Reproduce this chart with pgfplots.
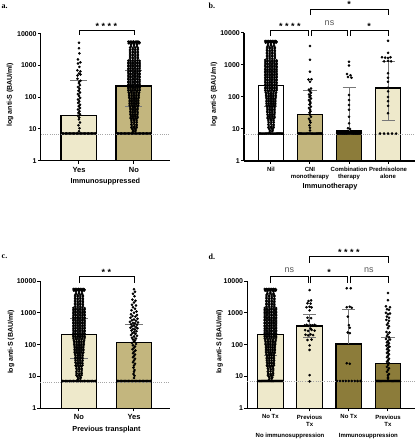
\documentclass[border=0pt]{standalone}
\usepackage{pgfplots}
\pgfplotsset{compat=1.18}
\usepackage{pgfplotstable}
\usepackage{fontspec}
\setmainfont{Liberation Sans}
\newfontfamily\serifb{Liberation Serif}
\definecolor{cLight}{RGB}{238,233,203}
\definecolor{cMid}{RGB}{195,182,126}
\definecolor{cDark}{RGB}{140,124,58}
\definecolor{cErr}{RGB}{120,120,120}

% dense group (no immunosuppression): dx in px offset, y value
\pgfplotstableread[row sep=\\]{
dx y\\
-1.5 8\\ 1.5 8.5\\ -1 9\\ 2 9.3\\ -2 10\\ 1 10.3\\
-3 11\\ 0 11.2\\ 3 11\\ -2.5 12.4\\ 0.5 12\\ 3 12.5\\ -3 14\\ 0 14.3\\ 3 13.8\\
-2.5 16\\ 0.5 16.5\\ 3.2 16\\ -3 18\\ 0 18.5\\ 3 18\\ -3.2 20.5\\ -0.3 20\\ 2.8 20.3\\
-4 22\\ -1.3 22.5\\ 1.3 22\\ 4 22.5\\ -3.5 25\\ -1 25.5\\ 1.5 25\\ 4 25.3\\
-4 28\\ -1.3 28.5\\ 1.3 28\\ 3.8 28.6\\ -4 32\\ -1.3 32.5\\ 1.3 32\\ 4.2 32\\
-4.2 36\\ -1.5 36.6\\ 1.3 36\\ 4 36.5\\ -4 40\\ -1.3 40.5\\ 1.3 40\\ 4 40.5\\
-4 45\\ -1.2 45.6\\ 1.4 45\\ 4.2 45.5\\ -4.5 50\\ -1.5 50.6\\ 1.3 50\\ 4 51\\
-5 56\\ -2.5 56.5\\ 0 56\\ 2.5 57\\ 5 56\\
-5 63\\ -2.5 64\\ 0 63\\ 2.5 63.5\\ 5 64\\
-5 71\\ -2.5 72\\ 0 71\\ 2.5 72\\ 5 71\\
-5 80\\ -2.5 81\\ 0 80\\ 2.5 81\\ 5 80\\
-5 90\\ -2.5 91\\ 0 90\\ 2.5 91\\ 5 90\\
-5.5 100\\ -2.7 102\\ 0 100\\ 2.7 102\\ 5.5 100\\
-5.5 112\\ -2.7 114\\ 0 112\\ 2.7 114\\ 5.5 112\\
-5.5 125\\ -2.7 127\\ 0 125\\ 2.7 127\\ 5.5 125\\
-6 140\\ -3 143\\ 0 140\\ 3 143\\ 6 140\\
-6.5 160\\ -4 163\\ -1.3 160\\ 1.3 163\\ 4 160\\ 6.5 163\\
-6.5 182\\ -4 180\\ -1.3 183\\ 1.3 180\\ 4 183\\ 6.5 180\\
-6.5 200\\ -4 204\\ -1.3 200\\ 1.3 204\\ 4 200\\ 6.5 204\\
-6.5 228\\ -4 224\\ -1.3 228\\ 1.3 224\\ 4 228\\ 6.5 224\\
-6.5 250\\ -4 255\\ -1.3 250\\ 1.3 255\\ 4 250\\ 6.5 255\\
-6.5 286\\ -4 280\\ -1.3 286\\ 1.3 280\\ 4 286\\ 6.5 280\\
-6.5 316\\ -4 322\\ -1.3 316\\ 1.3 322\\ 4 316\\ 6.5 322\\
-6.5 362\\ -4 355\\ -1.3 362\\ 1.3 355\\ 4 362\\ 6.5 355\\
-6.5 400\\ -4 408\\ -1.3 400\\ 1.3 408\\ 4 400\\ 6.5 408\\
-6.5 459\\ -4 450\\ -1.3 459\\ 1.3 450\\ 4 459\\ 6.5 450\\
-6.5 500\\ -4 510\\ -1.3 500\\ 1.3 510\\ 4 500\\ 6.5 510\\
-6.5 571\\ -4 560\\ -1.3 571\\ 1.3 560\\ 4 571\\ 6.5 560\\
-6.5 630\\ -4 642\\ -1.3 630\\ 1.3 642\\ 4 630\\ 6.5 642\\
-6.5 724\\ -4 710\\ -1.3 724\\ 1.3 710\\ 4 724\\ 6.5 710\\
-6.5 800\\ -4 816\\ -1.3 800\\ 1.3 816\\ 4 800\\ 6.5 816\\
-6.5 918\\ -4 900\\ -1.3 918\\ 1.3 900\\ 4 918\\ 6.5 900\\
-6.5 1000\\ -4 1020\\ -1.3 1000\\ 1.3 1020\\ 4 1000\\ 6.5 1020\\
-6.5 1142\\ -4 1120\\ -1.3 1142\\ 1.3 1120\\ 4 1142\\ 6.5 1120\\
-6.5 1250\\ -4 1275\\ -1.3 1250\\ 1.3 1275\\ 4 1250\\ 6.5 1275\\
-6.5 1428\\ -4 1400\\ -1.3 1428\\ 1.3 1400\\ 4 1428\\ 6.5 1400\\
-4.5 1600\\ -1.5 1630\\ 1.5 1600\\ 4.5 1630\\
-4.5 1830\\ -1.5 1800\\ 1.5 1830\\ 4.5 1800\\
-4.5 2000\\ -1.5 2040\\ 1.5 2000\\ 4.5 2040\\
-4.5 2280\\ -1.5 2240\\ 1.5 2280\\ 4.5 2240\\
-4.5 2500\\ -1.5 2550\\ 1.5 2500\\ 4.5 2550\\
-4.5 2850\\ -1.5 2800\\ 1.5 2850\\ 4.5 2800\\
-4.5 3160\\ -1.5 3220\\ 1.5 3160\\ 4.5 3220\\
-4.5 3620\\ -1.5 3550\\ 1.5 3620\\ 4.5 3550\\
-3.5 4000\\ 0 4080\\ 3.5 4000\\
-3.5 4590\\ 0 4500\\ 3.5 4590\\
-6 5000\\ -3 5100\\ 0 5000\\ 3 5100\\ 6 5000\\
-5.5 5300\\ -3.5 5350\\ -1.5 5300\\ 0.5 5350\\ 2.5 5300\\ 4.5 5350\\ 6.5 5300\\
-6.5 5600\\ -4.5 5650\\ -2.5 5600\\ -0.5 5650\\ 1.5 5600\\ 3.5 5650\\ 5.5 5600\\
}\dense

% values at the detection limit (dx in axis units)
\pgfplotstableread[row sep=\\]{
dx y\\
-0.3 7.2\\ -0.275 7.2\\ -0.25 7.2\\ -0.225 7.2\\ -0.2 7.2\\ -0.175 7.2\\ -0.15 7.2\\
-0.125 7.2\\ -0.1 7.2\\ -0.075 7.2\\ -0.05 7.2\\ -0.025 7.2\\ 0 7.2\\ 0.025 7.2\\
0.05 7.2\\ 0.075 7.2\\ 0.1 7.2\\ 0.125 7.2\\ 0.15 7.2\\ 0.175 7.2\\ 0.2 7.2\\
0.225 7.2\\ 0.25 7.2\\ 0.275 7.2\\ 0.3 7.2\\
}\lod
\pgfplotstableread[row sep=\\]{
dx y\\
-0.3 7.2\\ -0.225 7.2\\ -0.15 7.2\\ -0.075 7.2\\ 0 7.2\\ 0.075 7.2\\ 0.15 7.2\\ 0.225 7.2\\ 0.3 7.2\\
}\lods

\pgfplotstableread[row sep=\\]{
dx y\\
0 5200\\ 0 3500\\ 0.5 2400\\ -1 1550\\ 1.5 1250\\ -1 1150\\ 0.5 900\\ -1.5 700\\ 1.5 650\\ 0 560\\
-1.5 480\\ 1.5 520\\ -1.5 380\\ 1.5 330\\ 0 300\\ 0 275\\ 1 240\\ -1 210\\ 0.5 185\\ -0.5 160\\
1 140\\ -1 125\\ 0 110\\ 1.2 95\\ -1 85\\ 0.3 75\\ -0.8 66\\ 1 58\\ -0.3 52\\ 1 46\\ -1 41\\
0.5 36\\ -0.5 32\\ 1 29\\ -1 26\\ 0.3 23\\ 0 20\\ 1 16\\ -0.5 13\\ 0.5 10.5\\ 0 8.5\\
}\aYes

\pgfplotstableread[row sep=\\]{
dx y\\
0 5500\\ 1 4600\\ -1 4000\\ 0.5 3300\\ -1.5 2600\\ 1.5 2400\\ 0 2100\\ -2 1800\\ 2 1700\\ -1 1500\\
1 1350\\ -2.5 1200\\ 2.5 1100\\ 0 1000\\ -3 900\\ 3 850\\ -1.5 800\\ 1.5 760\\ -3.5 700\\ 3.5 650\\
0 620\\ -2 580\\ 2 560\\ -4 520\\ 4 500\\ -1 480\\ 1 470\\ -3 440\\ 3 420\\ 0 400\\ -2 380\\ 2 360\\
-3.5 340\\ 3.5 330\\ -1 310\\ 1 300\\ -2.5 280\\ 2.5 265\\ 0 250\\ -1.5 230\\ 1.5 220\\ -3 200\\
3 190\\ 0 180\\ -2 165\\ 2 155\\ -1 145\\ 1 135\\ 0 125\\ -2 112\\ 2 105\\ -1 95\\ 1 88\\ 0 80\\
-1.5 72\\ 1.5 66\\ 0 60\\ -1 54\\ 1 49\\ 0 44\\ -1 40\\ 1 36\\ 0 32\\ -1 28\\ 1 25\\ 0 22\\
-0.5 19\\ 0.5 16\\ 0 14\\ -0.5 12\\ 0.5 10.5\\ 0 9\\
}\cYes

\pgfplotstableread[row sep=\\]{
dx y\\
0 3900\\ 0 1450\\ 0 620\\ -1.5 350\\ 1.5 360\\ 0 300\\ 1 185\\ -1 170\\ 0 150\\ 1 135\\ -1 120\\
0.5 110\\ -0.5 100\\ 1 90\\ -1 80\\ 0 72\\ 0.5 65\\ -0.5 58\\ 1 50\\ -1 45\\ 0 40\\ 0.5 36\\
-0.5 32\\ 0 28\\ 1 24\\ -1 21\\ 0 18\\ 0.5 16\\ -0.5 13\\ 0 11\\ 0 9\\
}\bCNI

\pgfplotstableread[row sep=\\]{
dx y\\
0 1260\\ 0 960\\ -2 520\\ 1.5 480\\ -1 420\\ 2.5 400\\ 0 115\\ 0 80\\ 0 56\\ 0 40\\ 0 24\\ 0 15\\
-1 10.5\\ 1 10\\ -11.7 7.9\\ -9.75 7.9\\ -7.8 7.9\\ -5.85 7.9\\ -3.9 7.9\\ -1.95 7.9\\ 0 7.9\\
1.95 7.9\\ 3.9 7.9\\ 5.85 7.9\\ 7.8 7.9\\ 9.75 7.9\\ 11.7 7.9\\
}\bComb

\pgfplotstableread[row sep=\\]{
dx y\\
0 5700\\ 0 2400\\ -6 1750\\ -3 1700\\ 0 1650\\ 2.5 1750\\ -4 1300\\ 0 1350\\ 3 1300\\ 0 550\\
0 400\\ 0 300\\ 0 195\\ 0 150\\ 0 100\\ 0 74\\ 0 53\\ 0 31\\
-8 7.2\\ -4 7.2\\ 0 7.2\\ 4 7.2\\ 8 7.2\\
}\bPred

\pgfplotstableread[row sep=\\]{
dx y\\
0 5200\\ 1.5 2450\\ -1 2350\\ -2 2000\\ 1 1950\\ -3 1500\\ 0 1550\\ 2 1480\\ 0 1200\\ -2 700\\
1.5 680\\ -1 560\\ -5 400\\ -3 420\\ -1 390\\ 1 410\\ 3 400\\ 5 420\\ 6.5 390\\ 1 320\\
-4.5 285\\ -1.5 270\\ 2 290\\ 5 275\\ -4 205\\ -1.5 195\\ 1 210\\ 3.5 200\\ -2 140\\ 2 145\\
0 95\\ 0 68\\ 0 11\\ 0 7\\
}\dPrev

\pgfplotstableread[row sep=\\]{
dx y\\
-2 5900\\ 2 5900\\ -2 1500\\ 1 1550\\ 3 1450\\ -1 760\\ 0 410\\ 1 340\\ -1 240\\ 1 230\\ -2 26\\ 1 25\\
}\dNoTxI

\pgfplotstableread[row sep=\\]{
dx y\\
0 4200\\ 0 2500\\ -2 1600\\ 2 1500\\ -1 1300\\ 1 1250\\ -2 1000\\ 2 950\\ 0 900\\ -1 760\\
1 700\\ -1.5 600\\ 1 560\\ 0 470\\ -1 420\\ 1 380\\ 0 330\\ -1.5 250\\ 1.5 240\\ 0 210\\
-1 185\\ 1 170\\ -2 150\\ 2 145\\ 0 130\\ -1 118\\ 1 110\\ 0 100\\ -1.5 92\\ 1.5 86\\ 0 80\\
-1 72\\ 1 66\\ 0 60\\ -1 55\\ 1 50\\ 0 45\\ -1 40\\ 1 36\\ 0 32\\ -1 29\\ 1 26\\ 0 23\\
-1 20\\ 1 18\\ 0 16\\ -1 14\\ 1 12\\ 0 11\\ 0 9.5\\ 0 8.5\\
}\dPrevI

\newcommand{\sfour}{*\kern2.5pt*\kern2.5pt*\kern2.5pt*}
\newcommand{\stwo}{*\kern2.5pt*}
\newcommand{\fsig}{\fontsize{9}{9}\selectfont\bfseries}
\newcommand{\fns}{\fontsize{9}{9}\selectfont\color{black!65}}
\newcommand{\fyl}{\fontsize{7}{8}\selectfont\bfseries}
\newcommand{\fxl}{\fontsize{7.3}{8}\selectfont\bfseries}
\newcommand{\fxa}{\fontsize{7.5}{8}\selectfont\bfseries}
\newcommand{\fxb}{\fontsize{6}{7}\selectfont\bfseries}
\newcommand{\flet}{\serifb\fontsize{8}{8}\selectfont\bfseries}

\pgfplotsset{
  mypts/.style={only marks, mark=*, mark size=1.1pt, mark options={draw=none, fill=black}},
  mybar/.style={ybar, bar width=0.65, bar shift=0pt, draw=black, line width=1.2pt},
  myerr/.style={color=cErr, line width=0.8pt, mark=none},
  mythr/.style={color=black!35, line width=0.6pt, dash pattern=on 0.8pt off 1.4pt, mark=none},
}

\begin{document}
\begin{tikzpicture}
\path[use as bounding box] (0,0) rectangle (416pt,440pt);

\node[anchor=base west, inner sep=0pt, font=\flet] at (1.5pt,431.5pt) {a.};
\node[anchor=base west, inner sep=0pt, font=\flet] at (208.5pt,431.7pt) {b.};
\node[anchor=base west, inner sep=0pt, font=\flet] at (1.5pt,181pt) {c.};
\node[anchor=base west, inner sep=0pt, font=\flet] at (208.5pt,180.7pt) {d.};

% ---------------- panel a
\begin{axis}[at={(40.8pt,279.3pt)}, anchor=south west, scale only axis, width=129.2pt, height=127pt,
  ymode=log, ymin=1, ymax=10000,
  ytick={1,10,100,1000,10000}, yticklabels={1,10,100,1000,10000},
  axis x line*=bottom, axis y line*=left,
  axis line style={-, line width=1.3pt, black},
  tick align=outside, major tick length=3pt, minor tick length=0pt,
  tick style={line width=1pt, black},
  yticklabel style={font=\fyl, inner sep=1pt},
  clip=false,
  xmin=-0.694, xmax=1.655, xtick={0,1}, xticklabels={Yes,No},
  xticklabel style={font=\fxa},
  xlabel={Immunosuppressed}, xlabel style={font=\fxl, anchor=center, at={(axis description cs:0.5,-0.168)}},
  ylabel={log anti-S (BAU/ml)}, ylabel style={font=\fyl, anchor=center, at={(axis description cs:-0.238,0.52)}}]
\addplot[mybar, fill=cLight] coordinates {(0,27)};
\addplot[mybar, fill=cMid] coordinates {(1,224)};
\addplot[mythr] coordinates {(-0.694,6.8) (1.655,6.8)};
\addplot[mypts] table[x expr=\thisrow{dx}/55, y=y] {\aYes};
\addplot[mypts] table[x expr=1+\thisrow{dx}/64, y=y] {\dense};
\addplot[mypts] table[x expr=\thisrow{dx}, y=y] {\lod};
\addplot[mypts] table[x expr=1+\thisrow{dx}, y=y] {\lod};
\addplot[myerr] coordinates {(0,27) (0,340)};
\addplot[myerr] coordinates {(-0.155,340) (0.155,340)};
\addplot[myerr] coordinates {(1,52) (1,684)};
\addplot[myerr] coordinates {(0.845,684) (1.155,684)};
\addplot[myerr] coordinates {(0.845,52) (1.155,52)};
\draw[line width=0.9pt] (axis cs:0,9100) -- (axis cs:0,12600) -- (axis cs:1,12600) -- (axis cs:1,9100);
\node[anchor=base, inner sep=0pt, font=\fsig] at ([yshift=1.3pt]axis cs:0.5,12600) {\sfour};
\end{axis}

% ---------------- panel b
\begin{axis}[at={(244pt,279pt)}, anchor=south west, scale only axis, width=171pt, height=128pt,
  ymode=log, ymin=1, ymax=10000,
  ytick={1,10,100,1000,10000}, yticklabels={1,10,100,1000,10000},
  axis x line*=bottom, axis y line*=left,
  axis line style={-, line width=1.3pt, black},
  tick align=outside, major tick length=3pt, minor tick length=0pt,
  tick style={line width=1pt, black},
  yticklabel style={font=\fyl, inner sep=1pt},
  clip=false,
  xmin=-0.69, xmax=3.69, xtick={0,1,2,3},
  xticklabels={Nil,{CNI\\monotherapy},{Combination\\therapy},{Prednisolone\\alone}},
  xticklabel style={font=\fxb, align=center},
  xlabel={Immunotherapy}, xlabel style={font=\fxl, anchor=center, at={(axis description cs:0.503,-0.2)}},
  ylabel={log anti-S (BAU/ml)}, ylabel style={font=\fyl, anchor=center, at={(axis description cs:-0.175,0.52)}}]
\addplot[mybar, fill=white] coordinates {(0,223)};
\addplot[mybar, fill=cMid] coordinates {(1,29)};
\addplot[mybar, fill=cDark] coordinates {(2,8.7)};
\addplot[mybar, fill=cLight] coordinates {(3,190)};
\addplot[mythr] coordinates {(-0.69,7) (3.69,7)};
\addplot[mypts] table[x expr=\thisrow{dx}/45, y=y] {\dense};
\addplot[mypts] table[x expr=1+\thisrow{dx}/39, y=y] {\bCNI};
\addplot[mypts] table[x expr=2+\thisrow{dx}/39, y=y] {\bComb};
\addplot[mypts] table[x expr=3+\thisrow{dx}/39, y=y] {\bPred};
\addplot[mypts] table[x expr=\thisrow{dx}, y=y] {\lod};
\addplot[mypts] table[x expr=1+\thisrow{dx}, y=y] {\lod};
\addplot[mypts] table[x expr=2+\thisrow{dx}, y=y] {\lod};
\addplot[myerr] coordinates {(0,52) (0,684)};
\addplot[myerr] coordinates {(-0.167,684) (0.167,684)};
\addplot[myerr] coordinates {(-0.167,52) (0.167,52)};
\addplot[myerr] coordinates {(1,29) (1,160)};
\addplot[myerr] coordinates {(0.833,160) (1.167,160)};
\addplot[myerr] coordinates {(2,8.7) (2,200)};
\addplot[myerr] coordinates {(1.833,200) (2.167,200)};
\addplot[myerr] coordinates {(3,18) (3,1300)};
\addplot[myerr] coordinates {(2.833,1300) (3.167,1300)};
\addplot[myerr] coordinates {(2.833,18) (3.167,18)};
\draw[line width=0.9pt] (axis cs:0,8050) -- (axis cs:0,11800) -- (axis cs:0.97,11800) -- (axis cs:0.97,8050);
\draw[line width=0.9pt] (axis cs:1.03,8050) -- (axis cs:1.03,11800) -- (axis cs:1.97,11800) -- (axis cs:1.97,8050);
\draw[line width=0.9pt] (axis cs:2.03,8050) -- (axis cs:2.03,11800) -- (axis cs:3,11800) -- (axis cs:3,8050);
\draw[line width=0.9pt] (axis cs:1,36500) -- (axis cs:1,52500) -- (axis cs:3,52500) -- (axis cs:3,36500);
\node[anchor=base, inner sep=0pt, font=\fsig] at ([yshift=1.3pt]axis cs:0.485,11800) {\sfour};
\node[anchor=base, inner sep=0pt, font=\fns] at ([yshift=5.6pt]axis cs:1.5,11800) {ns};
\node[anchor=base, inner sep=0pt, font=\fsig] at ([yshift=1.5pt]axis cs:2.515,11800) {*};
\node[anchor=base, inner sep=0pt, font=\fsig] at ([yshift=2pt]axis cs:2,52500) {*};
\end{axis}

% ---------------- panel c
\begin{axis}[at={(40.5pt,31.7pt)}, anchor=south west, scale only axis, width=129.5pt, height=127.3pt,
  ymode=log, ymin=1, ymax=10000,
  ytick={1,10,100,1000,10000}, yticklabels={1,10,100,1000,10000},
  axis x line*=bottom, axis y line*=left,
  axis line style={-, line width=1.3pt, black},
  tick align=outside, major tick length=3pt, minor tick length=0pt,
  tick style={line width=1pt, black},
  yticklabel style={font=\fyl, inner sep=1pt},
  clip=false,
  xmin=-0.7, xmax=1.655, xtick={0,1}, xticklabels={No,Yes},
  xticklabel style={font=\fxa},
  xlabel={Previous transplant}, xlabel style={font=\fxl, anchor=center, at={(axis description cs:0.51,-0.165)}},
  ylabel={log anti-S (BAU/ml)}, ylabel style={font=\fyl, anchor=center, at={(axis description cs:-0.228,0.52)}}]
\addplot[mybar, fill=cLight] coordinates {(0,211)};
\addplot[mybar, fill=cMid] coordinates {(1,118)};
\addplot[mythr] coordinates {(-0.7,6.8) (1.655,6.8)};
\addplot[mypts] table[x expr=\thisrow{dx}/64, y=y] {\dense};
\addplot[mypts] table[x expr=1+\thisrow{dx}/55, y=y] {\cYes};
\addplot[mypts] table[x expr=\thisrow{dx}, y=y] {\lod};
\addplot[mypts] table[x expr=1+\thisrow{dx}, y=y] {\lod};
\addplot[myerr] coordinates {(0,37) (0,690)};
\addplot[myerr] coordinates {(-0.155,690) (0.155,690)};
\addplot[myerr] coordinates {(-0.155,37) (0.155,37)};
\addplot[myerr] coordinates {(1,118) (1,435)};
\addplot[myerr] coordinates {(0.845,435) (1.155,435)};
\draw[line width=0.9pt] (axis cs:0,8450) -- (axis cs:0,13600) -- (axis cs:1,13600) -- (axis cs:1,8450);
\node[anchor=base, inner sep=0pt, font=\fsig] at ([yshift=0.8pt]axis cs:0.5,13600) {\stwo};
\end{axis}

% ---------------- panel d
\begin{axis}[at={(247.3pt,31.7pt)}, anchor=south west, scale only axis, width=167.7pt, height=127.3pt,
  ymode=log, ymin=1, ymax=10000,
  ytick={1,10,100,1000,10000}, yticklabels={1,10,100,1000,10000},
  axis x line*=bottom, axis y line*=left,
  axis line style={-, line width=1.3pt, black},
  tick align=outside, major tick length=3pt, minor tick length=0pt,
  tick style={line width=1pt, black},
  yticklabel style={font=\fyl, inner sep=1pt},
  clip=false,
  xmin=-0.59, xmax=3.69, xtick={0,1,2,3},
  xticklabels={No Tx,{Previous\\Tx},No Tx,{Previous\\Tx}},
  xticklabel style={font=\fxb, align=center},
  ylabel={log anti-S (BAU/ml)}, ylabel style={font=\fyl, anchor=center, at={(axis description cs:-0.165,0.52)}}]
\addplot[mybar, fill=cLight] coordinates {(0,211)};
\addplot[mybar, fill=cLight] coordinates {(1,387)};
\addplot[mybar, fill=cDark] coordinates {(2,105)};
\addplot[mybar, fill=cDark] coordinates {(3,26)};
\addplot[mythr] coordinates {(-0.59,7.2) (3.69,7.2)};
\addplot[mypts] table[x expr=\thisrow{dx}/45, y=y] {\dense};
\addplot[mypts] table[x expr=1+\thisrow{dx}/39, y=y] {\dPrev};
\addplot[mypts] table[x expr=2+\thisrow{dx}/39, y=y] {\dNoTxI};
\addplot[mypts] table[x expr=3+\thisrow{dx}/39, y=y] {\dPrevI};
\addplot[mypts] table[x expr=\thisrow{dx}, y=y] {\lod};
\addplot[mypts] table[x expr=2+\thisrow{dx}, y=y] {\lods};
\addplot[mypts] table[x expr=3+\thisrow{dx}, y=y] {\lod};
\addplot[myerr] coordinates {(0,46) (0,690)};
\addplot[myerr] coordinates {(-0.167,690) (0.167,690)};
\addplot[myerr] coordinates {(-0.167,46) (0.167,46)};
\addplot[myerr] coordinates {(1,170) (1,900)};
\addplot[myerr] coordinates {(0.833,900) (1.167,900)};
\addplot[myerr] coordinates {(0.833,170) (1.167,170)};
\addplot[myerr] coordinates {(2,105) (2,1280)};
\addplot[myerr] coordinates {(1.833,1280) (2.167,1280)};
\addplot[myerr] coordinates {(3,26) (3,170)};
\addplot[myerr] coordinates {(2.833,170) (3.167,170)};
\draw[line width=0.9pt] (axis cs:0,8450) -- (axis cs:0,13600) -- (axis cs:0.97,13600) -- (axis cs:0.97,8450);
\draw[line width=0.9pt] (axis cs:1.03,8450) -- (axis cs:1.03,13600) -- (axis cs:1.97,13600) -- (axis cs:1.97,8450);
\draw[line width=0.9pt] (axis cs:2.03,8450) -- (axis cs:2.03,13600) -- (axis cs:3,13600) -- (axis cs:3,8450);
\draw[line width=0.9pt] (axis cs:1,37600) -- (axis cs:1,58000) -- (axis cs:3,58000) -- (axis cs:3,37600);
\node[anchor=base, inner sep=0pt, font=\fns] at ([yshift=4.5pt]axis cs:0.485,13600) {ns};
\node[anchor=base, inner sep=0pt, font=\fsig] at ([yshift=1.5pt]axis cs:1.5,13600) {*};
\node[anchor=base, inner sep=0pt, font=\fns] at ([yshift=4.5pt]axis cs:2.515,13600) {ns};
\node[anchor=base, inner sep=0pt, font=\fsig] at ([yshift=0.8pt]axis cs:2,58000) {\sfour};
\node[font=\fxb] at ([yshift=-27.7pt]axis cs:0.5,1) {No immunosuppression};
\node[font=\fxb] at ([yshift=-27.7pt]axis cs:2.5,1) {Immunosuppression};
\end{axis}
\end{tikzpicture}
\end{document}
